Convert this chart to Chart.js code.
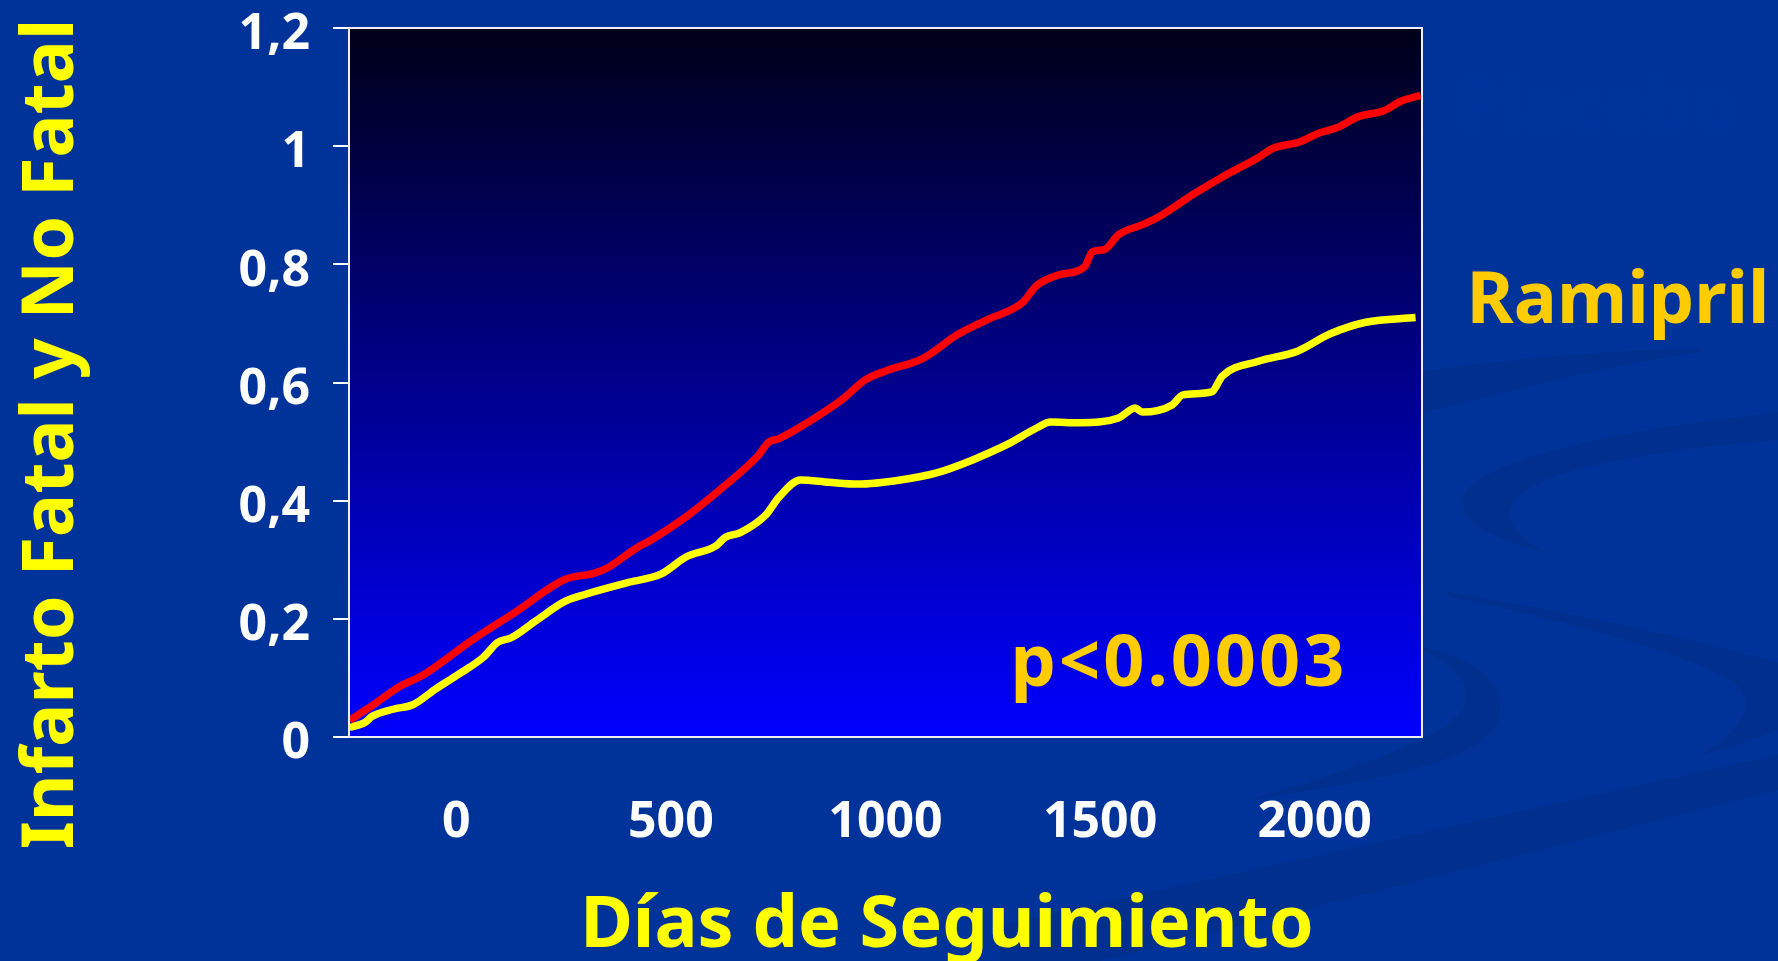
<!DOCTYPE html>
<html>
<head>
<meta charset="utf-8">
<title>Infarto Fatal y No Fatal</title>
<script src="https://cdn.jsdelivr.net/npm/chart.js@4.4.1/dist/chart.umd.min.js"></script>
<style>
  html, body { margin: 0; padding: 0; background: #003399; overflow: hidden; }
  canvas { display: block; }
</style>
</head>
<body>
<canvas id="chart" width="1778" height="961"></canvas>
<script>
/* ---------- data ---------- */
const xTicks = [0, 500, 1000, 1500, 2000];
const xTickLabels = ['0', '500', '1000', '1500', '2000'];
const yTicks = [0, 0.2, 0.4, 0.6, 0.8, 1, 1.2];
const yTickLabels = ['0', '0,2', '0,4', '0,6', '0,8', '1', '1,2'];

// red curve (placebo)
const placeboDays = [-249, -196, -131, -79, 37, 137, 254, 320, 354, 420, 453, 536, 620, 703, 728, 752, 820, 902, 952, 1002,
  1085, 1170, 1236, 1319, 1352, 1403, 1464, 1482, 1510, 1543, 1602, 1636, 1718, 1785, 1869, 1902, 1968, 2009, 2051, 2102, 2161, 2201, 2247];
const placeboValues = [0.028, 0.053, 0.086, 0.104, 0.164, 0.211, 0.267, 0.277, 0.287, 0.320, 0.333, 0.373, 0.422, 0.476, 0.499, 0.505, 0.533, 0.573, 0.604, 0.620,
  0.640, 0.682, 0.706, 0.735, 0.764, 0.782, 0.796, 0.821, 0.825, 0.850, 0.868, 0.880, 0.919, 0.948, 0.981, 0.996, 1.008, 1.022, 1.031, 1.050, 1.060, 1.076, 1.086];

// yellow curve (ramipril)
const ramiprilDays = [-249, -212, -196, -147, -100, -47, 5, 63, 96, 128, 186, 254, 303, 403, 478, 536, 604, 627, 662, 720,
  752, 802, 869, 936, 1035, 1119, 1203, 1286, 1352, 1385, 1452, 1543, 1582, 1598, 1668, 1693, 1760, 1785, 1869, 1960, 2035, 2119, 2235];
const ramiprilValues = [0.016, 0.025, 0.035, 0.047, 0.055, 0.082, 0.106, 0.135, 0.160, 0.168, 0.197, 0.230, 0.242, 0.262, 0.276, 0.305, 0.323, 0.338, 0.346, 0.375,
  0.406, 0.435, 0.431, 0.428, 0.435, 0.447, 0.469, 0.496, 0.523, 0.533, 0.532, 0.540, 0.557, 0.550, 0.562, 0.579, 0.584, 0.611, 0.636, 0.653, 0.682, 0.702, 0.710];

const yTitle = 'Infarto Fatal y No Fatal';
const xTitle = 'Días de Seguimiento';
const ramiprilLabel = 'Ramipril';
const placeboLabel = 'Placebo';
const pValueText = 'p<0.0003';

/* ---------- helpers ---------- */
const FONT = '"Noto Sans", "Liberation Sans", sans-serif';
const toPoints = (xs, ys) => xs.map((x, i) => ({x, y: ys[i]}));

/* ---------- slide decoration + texts ---------- */
const slide = {
  id: 'slide',
  beforeDraw(chart) {
    const {ctx, chartArea: a, width, height} = chart;
    ctx.save();
    ctx.fillStyle = '#003399';
    ctx.fillRect(0, 0, width, height);

    // faint swooshes of the slide template
    ctx.fillStyle = '#002f8e';
    ctx.beginPath();
    ctx.moveTo(1420, 372);
    ctx.bezierCurveTo(1500, 360, 1600, 350, 1700, 349);
    ctx.lineTo(1700, 352);
    ctx.bezierCurveTo(1600, 366, 1500, 395, 1420, 413);
    ctx.closePath(); ctx.fill();

    ctx.beginPath();
    ctx.moveTo(1778, 412);
    ctx.bezierCurveTo(1620, 430, 1470, 460, 1462, 500);
    ctx.bezierCurveTo(1458, 525, 1500, 540, 1545, 553);
    ctx.bezierCurveTo(1515, 535, 1505, 520, 1512, 505);
    ctx.bezierCurveTo(1530, 470, 1650, 450, 1778, 440);
    ctx.closePath(); ctx.fill();

    ctx.beginPath();
    ctx.moveTo(1447, 592);
    ctx.bezierCurveTo(1560, 610, 1700, 640, 1778, 663);
    ctx.lineTo(1778, 730);
    ctx.bezierCurveTo(1750, 740, 1730, 748, 1700, 755);
    ctx.bezierCurveTo(1745, 730, 1760, 700, 1730, 680);
    ctx.bezierCurveTo(1680, 650, 1560, 620, 1447, 596);
    ctx.closePath(); ctx.fill();

    ctx.beginPath();
    ctx.moveTo(1250, 800);
    ctx.bezierCurveTo(1380, 780, 1500, 760, 1500, 710);
    ctx.bezierCurveTo(1500, 670, 1460, 655, 1410, 645);
    ctx.bezierCurveTo(1460, 665, 1475, 690, 1460, 712);
    ctx.bezierCurveTo(1440, 740, 1350, 770, 1250, 800);
    ctx.closePath(); ctx.fill();

    ctx.beginPath();
    ctx.moveTo(1000, 925);
    ctx.lineTo(1778, 755);
    ctx.lineTo(1778, 790);
    ctx.lineTo(1100, 961);
    ctx.lineTo(1000, 961);
    ctx.closePath(); ctx.fill();

    // hidden series label, almost the colour of the background
    ctx.font = 'bold 72px ' + FONT;
    ctx.fillStyle = '#00349d';
    ctx.textAlign = 'center';
    ctx.textBaseline = 'alphabetic';
    ctx.fillText(placeboLabel, 1597, 130);

    // plot area gradient
    const g = ctx.createLinearGradient(0, a.top, 0, a.bottom);
    g.addColorStop(0, '#000018');
    g.addColorStop(1, '#0000ff');
    ctx.fillStyle = g;
    ctx.fillRect(a.left, a.top, a.right - a.left, a.bottom - a.top);
    ctx.restore();
  },
  afterDatasetsDraw(chart) {
    const {ctx, chartArea: a} = chart;
    ctx.save();
    ctx.strokeStyle = '#eeeeff';
    ctx.lineWidth = 2;
    ctx.strokeRect(a.left, a.top, a.right - a.left, a.bottom - a.top);
    ctx.restore();
  },
  afterDraw(chart) {
    const {ctx} = chart;
    ctx.save();
    ctx.font = 'bold 72px ' + FONT;
    ctx.textBaseline = 'alphabetic';
    ctx.textAlign = 'center';

    ctx.fillStyle = '#ffff00';
    ctx.fillText(xTitle, 947, 947);
    ctx.save();
    ctx.translate(73, 434);
    ctx.rotate(-Math.PI / 2);
    ctx.fillText(yTitle, 0, 0);
    ctx.restore();

    ctx.fillStyle = '#ffcc00';
    ctx.fillText(ramiprilLabel, 1618, 323);
    ctx.letterSpacing = '3px';
    ctx.fillText(pValueText, 1179, 686);
    ctx.restore();
  }
};

/* ---------- chart ---------- */
new Chart(document.getElementById('chart'), {
  type: 'line',
  data: {
    datasets: [
      {label: placeboLabel, data: toPoints(placeboDays, placeboValues), borderColor: '#ff0000', borderWidth: 7.5,
        pointRadius: 0, cubicInterpolationMode: 'monotone', fill: false},
      {label: ramiprilLabel, data: toPoints(ramiprilDays, ramiprilValues), borderColor: '#ffff00', borderWidth: 7.5,
        pointRadius: 0, cubicInterpolationMode: 'monotone', fill: false}
    ]
  },
  options: {
    responsive: false,
    animation: false,
    devicePixelRatio: 1,
    layout: {padding: {left: 0, top: 28, right: 356, bottom: 0}},
    plugins: {legend: {display: false}, tooltip: {enabled: false}},
    scales: {
      x: {
        type: 'linear', min: -250, max: 2250,
        afterBuildTicks: s => { s.ticks = xTicks.map(v => ({value: v})); },
        afterFit: s => { s.height = 224; s.paddingLeft = 0; s.paddingRight = 0; },
        grid: {display: false, drawTicks: false},
        border: {display: false},
        ticks: {color: '#ffffff', padding: 61, maxRotation: 0, autoSkip: false,
          callback: v => xTickLabels[xTicks.indexOf(v)],
          font: {family: FONT, size: 50, weight: 'bold', lineHeight: 1}}
      },
      y: {
        min: 0, max: 1.2,
        afterBuildTicks: s => { s.ticks = yTicks.map(v => ({value: v})); },
        afterFit: s => { s.width = 349; s.paddingTop = 0; s.paddingBottom = 0; },
        grid: {drawOnChartArea: false, drawTicks: true, tickLength: 16, color: '#ffffff', lineWidth: 2},
        border: {display: false},
        ticks: {color: '#ffffff', padding: 23, labelOffset: 7, autoSkip: false,
          callback: v => yTickLabels[yTicks.indexOf(v)],
          font: {family: FONT, size: 50, weight: 'bold', lineHeight: 1}}
      }
    }
  },
  plugins: [slide]
});
</script>
</body>
</html>
